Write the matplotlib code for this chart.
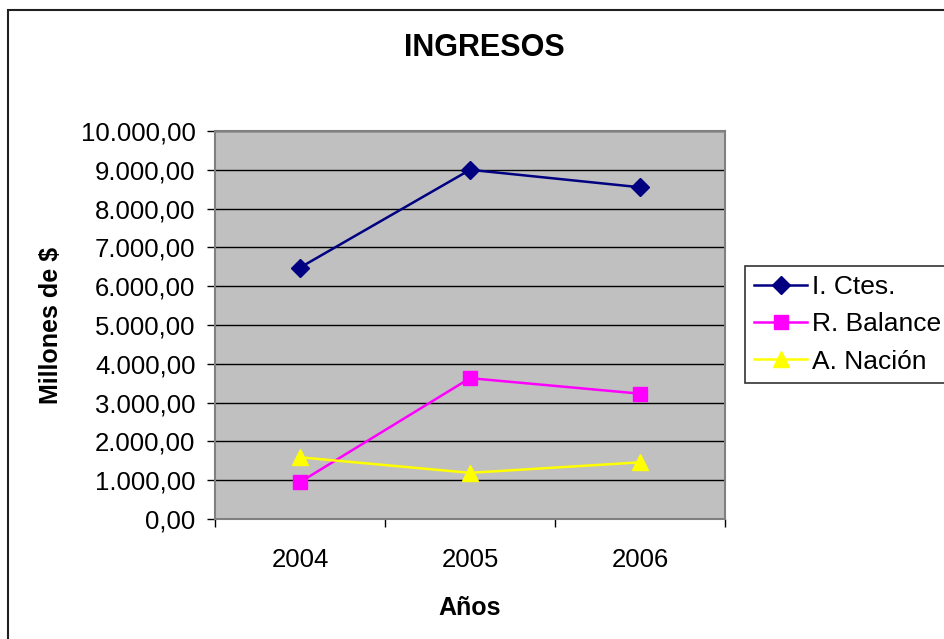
import matplotlib
matplotlib.use("Agg")
import matplotlib.pyplot as plt
from matplotlib.patches import Rectangle
from matplotlib.ticker import FuncFormatter, FixedLocator

plt.rcParams['font.family'] = ['Liberation Sans', 'DejaVu Sans']

years = ["2004", "2005", "2006"]
i_ctes = [6480, 9000, 8550]
r_balance = [950, 3630, 3230]
a_nacion = [1590, 1190, 1460]
series_names = ["I. Ctes.", "R. Balance", "A. Nación"]
y_ticks = [0, 1000, 2000, 3000, 4000, 5000, 6000, 7000, 8000, 9000, 10000]

W, H = 944, 639
fig = plt.figure(figsize=(W / 100, H / 100), dpi=100)
fig.patch.set_facecolor('white')

# outer chart border
fig.patches.append(Rectangle((8 / W, -0.1), 1.2, 1 - 10 / H + 0.1, transform=fig.transFigure,
                             fill=False, edgecolor='#202020', linewidth=1.5, figure=fig))

ax = fig.add_axes([215 / W, 1 - 519 / H, 510 / W, 388 / H])
ax.set_facecolor('#C0C0C0')

x = list(range(len(years)))
ax.plot(x, i_ctes, color='#000080', lw=1.8, marker='D', ms=9, label=series_names[0], zorder=4)
ax.plot(x, r_balance, color='#FF00FF', lw=1.8, marker='s', ms=10, label=series_names[1], zorder=4)
ax.plot(x, a_nacion, color='#FFFF00', lw=1.8, marker='^', ms=11, label=series_names[2], zorder=4)

ax.set_xlim(-0.5, 2.5)
ax.set_ylim(0, 10000)
ax.set_yticks(y_ticks)
ax.yaxis.set_major_formatter(FuncFormatter(
    lambda v, p: f"{v:,.2f}".replace(",", "X").replace(".", ",").replace("X", ".")))
ax.grid(axis='y', color='black', lw=1)
ax.set_axisbelow(True)

ax.set_xticks(x)
ax.set_xticklabels(years)
ax.xaxis.set_minor_locator(FixedLocator([-0.5, 0.5, 1.5, 2.5]))
ax.tick_params(axis='x', which='major', length=0, pad=21, labelsize=18.5)
ax.tick_params(axis='x', which='minor', length=6, width=1, direction='out', color='black')
ax.tick_params(axis='y', which='major', length=6, width=1, direction='out', pad=8,
               labelsize=18.5, color='black')

for s in ax.spines.values():
    s.set_color('#808080')
    s.set_linewidth(1.5)

ax.set_xlabel("Años", fontsize=18, fontweight='bold', labelpad=17)
ax.set_ylabel("Millones de $", fontsize=18, fontweight='bold', labelpad=13)

fig.text(484 / W, 1 - 48 / H, "INGRESOS", fontsize=22, fontweight='bold',
         ha='center', va='center')

leg = ax.legend(loc='upper left', bbox_to_anchor=(745 / W, 1 - 266 / H),
                bbox_transform=fig.transFigure, fontsize=19, frameon=True,
                fancybox=False, shadow=False, handlelength=2.0, handletextpad=0.2,
                labelspacing=0.5, borderpad=0.35, borderaxespad=0)
leg.get_frame().set_edgecolor('black')
leg.get_frame().set_linewidth(1.2)

fig.savefig("out.png", dpi=100)
